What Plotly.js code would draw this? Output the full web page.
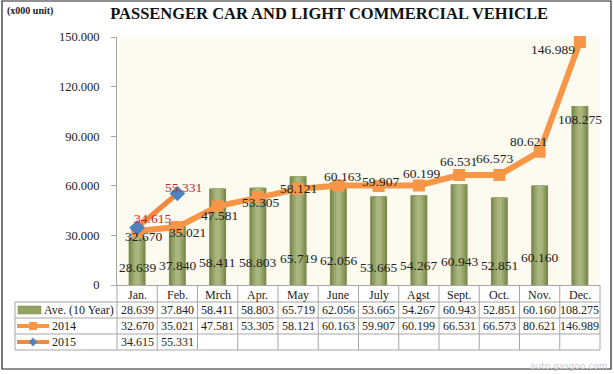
<!DOCTYPE html>
<html>
<head>
<meta charset="utf-8">
<script src="https://cdn.plot.ly/plotly-3.0.1.min.js"></script>
<style>body{margin:0;background:#fff}#chart{width:614px;height:374px}</style>
</head>
<body>
<div id="chart"></div>
<script>
const categories = ['Jan.','Feb.','Mrch','Apr.','May','June','July','Agst','Sept.','Oct.','Nov.','Dec.'];
const avg10 = [28.639,37.840,58.411,58.803,65.719,62.056,53.665,54.267,60.943,52.851,60.160,108.275];
const y2014 = [32.670,35.021,47.581,53.305,58.121,60.163,59.907,60.199,66.531,66.573,80.621,146.989];
const y2015 = [34.615,55.331];
const seriesNames = ['Ave. (10 Year)','2014','2015'];
const yTicks = [0,30,60,90,120,150];
const yTickText = ['0','30.000','60.000','90.000','120.000','150.000'];

const FONT = 'Liberation Serif, DejaVu Serif, serif';
const fmt = v => v.toFixed(3);

// geometry (px)
const W=614,H=374, L=15, R=14, T=37, B=24;
const PW=W-L-R, PH=H-T-B;
const px2x = p => (p-L)/PW;
const py2y = p => (H-B-p)/PH;
const plotLeft = 117, plotRight = 600, axisBottom = 285;
const xDom0 = px2x(plotLeft);
const yDom0 = py2y(axisBottom);

// label placement offsets (style only, pixels: [dx, dy-down])
const off2014 = [[6,6],[10,5],[2,9],[3,6],[0,0],[4,-9],[2,-4],[3,-12],[-1,-14],[-5,-16],[-11,-10],[-27,8]];
const off2015 = [[15,-9],[6,-6]];
const barLabelRise = [18,20,23,23,27,25,18,20,24,20,28];

const traces = [];
// bars with layered shading
const barLayers = [[0.42,'#7c8a4e'],[0.32,'#8b9a5e'],[0.22,'#9ba96f'],[0.12,'#aab680']];
barLayers.forEach(([w,c])=>{
  traces.push({type:'bar', x:categories, y:avg10, width:w, marker:{color:c, line:{width:0}},
    name:seriesNames[0], showlegend:false, hoverinfo:'skip'});
});
// 2014 line
traces.push({type:'scatter', mode:'lines+markers', x:categories, y:y2014, name:seriesNames[1],
  line:{color:'#f79646', width:6}, marker:{symbol:'square', size:12, color:'#f79646'}, cliponaxis:false});
// 2015 line
traces.push({type:'scatter', mode:'lines+markers', x:categories.slice(0,y2015.length), y:y2015, name:seriesNames[2],
  line:{color:'#f0883e', width:5}, marker:{symbol:'diamond', size:12, color:'#4f81bd'}, cliponaxis:false});

// data table drawn with shapes + annotations
const GRID = '#a6a6a6';
const rowY = [294.5, 310, 326, 342];  // header, ave, 2014, 2015 centres (px)
const hLines = [302, 318, 334, 350];
const colW = (plotRight-plotLeft)/12;
const shapes = [];
hLines.forEach(y=>shapes.push({type:'line', xref:'paper', yref:'paper', x0:px2x(15), x1:px2x(plotRight), y0:py2y(y), y1:py2y(y), line:{color:GRID, width:1}}));
shapes.push({type:'line', xref:'paper', yref:'paper', x0:px2x(15), x1:px2x(15), y0:py2y(302), y1:py2y(350), line:{color:GRID, width:1}});
for(let k=0;k<=12;k++){
  const x = plotLeft + k*colW;
  shapes.push({type:'line', xref:'paper', yref:'paper', x0:px2x(x), x1:px2x(x), y0:py2y(axisBottom), y1:py2y(350), line:{color:GRID, width:1}});
}
// outer frame
shapes.push({type:'rect', xref:'paper', yref:'paper', x0:px2x(2), x1:px2x(611), y0:py2y(369), y1:py2y(1), line:{color:'#222', width:1.2}});
// legend icons
shapes.push(
  {type:'rect', xref:'paper', yref:'paper', x0:px2x(18), x1:px2x(41), y0:py2y(314), y1:py2y(306), fillcolor:'#93a462', line:{color:'#7a8a4a', width:0.5}},
  {type:'line', xref:'paper', yref:'paper', x0:px2x(17), x1:px2x(49), y0:py2y(326), y1:py2y(326), line:{color:'#f79646', width:4}},
  {type:'rect', xref:'paper', yref:'paper', x0:px2x(29), x1:px2x(37), y0:py2y(330), y1:py2y(322), fillcolor:'#f79646', line:{width:0}},
  {type:'line', xref:'paper', yref:'paper', x0:px2x(17), x1:px2x(49), y0:py2y(342), y1:py2y(342), line:{color:'#e98a45', width:4}},
  {type:'path', xref:'paper', yref:'paper', path:`M ${px2x(33)} ${py2y(337.5)} L ${px2x(37)} ${py2y(342)} L ${px2x(33)} ${py2y(346.5)} L ${px2x(29)} ${py2y(342)} Z`, fillcolor:'#4f81bd', line:{width:0}}
);

const tFont = {family:FONT, size:12, color:'#222'};
const lblFont = {family:FONT, size:13.5, color:'#222'};
const ann = [];
// bar value labels
avg10.forEach((v,i)=>{
  if(i===11) ann.push({x:categories[i], y:v, xref:'x', yref:'y', text:fmt(v), showarrow:false, yanchor:'middle', yshift:-14, font:lblFont});
  else ann.push({x:categories[i], y:0, xref:'x', yref:'y', text:fmt(v), showarrow:false, yanchor:'middle', yshift:barLabelRise[i], font:lblFont});
});
// line value labels
y2014.forEach((v,i)=>ann.push({x:categories[i], y:v, xref:'x', yref:'y', text:fmt(v), showarrow:false, yanchor:'middle',
  xshift:off2014[i][0], yshift:-off2014[i][1], font:lblFont}));
y2015.forEach((v,i)=>ann.push({x:categories[i], y:v, xref:'x', yref:'y', text:fmt(v), showarrow:false, yanchor:'middle',
  xshift:off2015[i][0], yshift:-off2015[i][1], font:{family:FONT, size:13.5, color:'#c0282d'}}));
// table text
categories.forEach((c,i)=>{
  ann.push({xref:'x', yref:'paper', x:c, y:py2y(rowY[0]), text:c, showarrow:false, font:tFont, yanchor:'middle'});
  ann.push({xref:'x', yref:'paper', x:c, y:py2y(rowY[1]), text:fmt(avg10[i]), showarrow:false, font:tFont, yanchor:'middle'});
  ann.push({xref:'x', yref:'paper', x:c, y:py2y(rowY[2]), text:fmt(y2014[i]), showarrow:false, font:tFont, yanchor:'middle'});
  if(i<y2015.length) ann.push({xref:'x', yref:'paper', x:c, y:py2y(rowY[3]), text:fmt(y2015[i]), showarrow:false, font:tFont, yanchor:'middle'});
});
[[42,310],[50,326],[50,342]].forEach(([x,y],i)=>ann.push({xref:'paper', yref:'paper', x:px2x(x), y:py2y(y),
  xanchor:'left', yanchor:'middle', text:seriesNames[i], showarrow:false, font:tFont}));
ann.push(
  {xref:'paper', yref:'paper', x:px2x(5), y:py2y(11), xanchor:'left', yanchor:'middle', text:'<b>(x000 unit)</b>', showarrow:false, font:{family:FONT, size:10, color:'#222'}},
  {xref:'paper', yref:'paper', x:px2x(610), y:py2y(366), xanchor:'right', yanchor:'middle', text:'auto.gasgoo.com', showarrow:false, font:{family:'DejaVu Sans', size:9, color:'#c8ccd2'}}
);

const layout = {
  width:W, height:H, margin:{l:L, r:R, t:T, b:B},
  paper_bgcolor:'#fff', plot_bgcolor:'#fdfaf0',
  barmode:'overlay', showlegend:false,
  font:{family:FONT, color:'#222'},
  title:{text:'<b>PASSENGER CAR AND LIGHT COMMERCIAL VEHICLE</b>', x:0.536, xanchor:'center', y:0.965, yanchor:'middle', font:{family:FONT, size:16.5, color:'#111'}},
  xaxis:{domain:[xDom0,1], type:'category', showticklabels:false, ticks:'', showgrid:false, zeroline:false, showline:true, linecolor:GRID, range:[-0.5,11.5]},
  yaxis:{domain:[yDom0,1], range:[0,150], tickvals:yTicks, ticktext:yTickText, ticks:'outside', ticklen:5, tickcolor:GRID, ticklabelstandoff:9,
    showline:true, linecolor:GRID, showgrid:false, zeroline:false, tickfont:{family:FONT, size:12.5, color:'#222'}},
  shapes:shapes,
  annotations: ann
};
Plotly.newPlot('chart', traces, layout, {displayModeBar:false, staticPlot:true});
</script>
</body>
</html>
